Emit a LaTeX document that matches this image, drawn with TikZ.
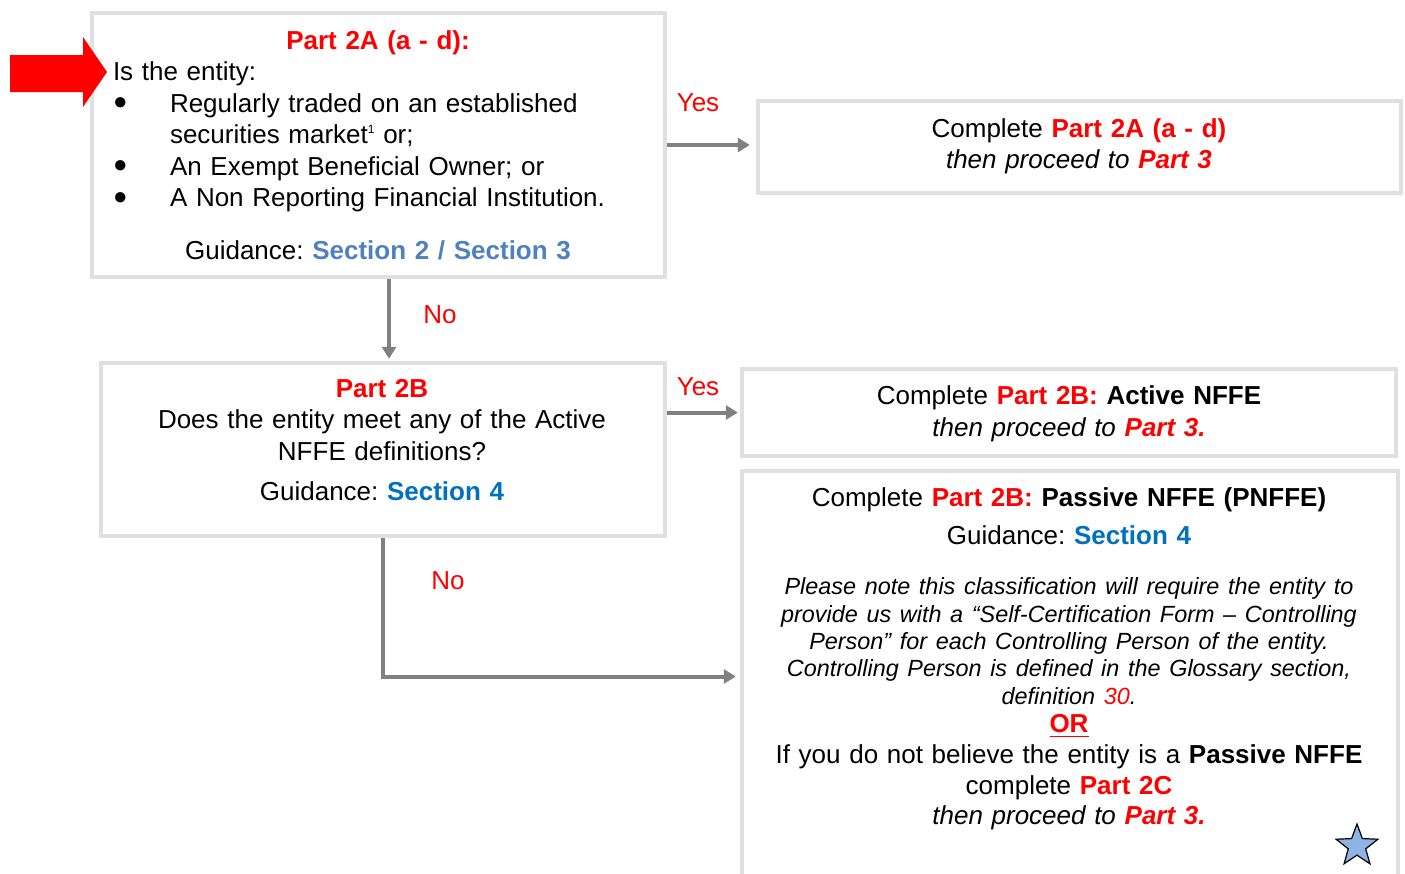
\documentclass[tikz,border=0pt]{standalone}
\usepackage{fontspec}
\setmainfont{Liberation Sans}
\usetikzlibrary{arrows.meta,shapes.geometric}
\definecolor{partred}{HTML}{FF0000}
\definecolor{steelblue}{HTML}{4F81BD}
\definecolor{sectblue}{HTML}{0070C0}
\definecolor{boxgrey}{HTML}{E0E0E0}
\definecolor{flowgrey}{HTML}{808080}
\definecolor{starblue}{HTML}{8DB4E2}
\newcommand{\partref}[1]{{\color{partred}\bfseries #1}}
\newcommand{\guideref}[1]{{\color{sectblue}\bfseries #1}}
\newcommand{\bul}{\makebox[28.5pt][l]{\fontsize{12pt}{12pt}\selectfont\raisebox{1.2pt}{●}}}
\frenchspacing

\begin{document}
\begin{tikzpicture}[x=0.5pt,y=-0.5pt,
    panel/.style={draw=boxgrey, line width=2.2pt, inner sep=0pt},
    txt/.style={inner sep=0pt, align=center, font=\fontsize{13pt}{15.75pt}\selectfont},
    answer/.style={inner sep=0pt, text=partred, font=\fontsize{13pt}{15pt}\selectfont},
    flow/.style={draw=flowgrey, line width=2pt, -{Triangle[length=6pt,width=7pt]}}]
    \useasboundingbox (0,0) rectangle (1405,874);

    % boxes
    \node[panel, minimum width=286.5pt, minimum height=132pt] (boxA) at (378.5,145) {};
    \node[panel, minimum width=321.5pt, minimum height=46pt] (boxB) at (1079.5,147) {};
    \node[panel, minimum width=282pt, minimum height=86.5pt] (boxC) at (383,449.5) {};
    \node[panel, minimum width=327pt, minimum height=43.5pt] (boxD) at (1069,412.5) {};
    \node[panel, minimum width=328pt, minimum height=205.5pt] (boxE) at (1070,676.5) {};

    % texts
    \node[txt, text width=265pt] (textA) at (378,145) {%
      \partref{Part 2A (a - d):}\\
      \makebox[\linewidth][l]{Is the entity:}\\
      \makebox[\linewidth][l]{\bul Regularly traded on an established}\\
      \makebox[\linewidth][l]{\hspace{28.5pt}securities market\raisebox{5pt}{\fontsize{6pt}{6pt}\selectfont 1} or;}\\
      \makebox[\linewidth][l]{\bul An Exempt Beneficial Owner; or}\\
      \makebox[\linewidth][l]{\bul A Non Reporting Financial Institution.}\\[10.5pt]
      Guidance: {\color{steelblue}\bfseries Section 2 / Section 3}};
    \node[txt, text width=310pt] (textB) at (1079,146.5) {%
      Complete \partref{Part 2A (a - d)}\\
      \textit{then proceed to \partref{Part 3}}};
    \node[txt, text width=270pt] (textC) at (382,440) {%
      \partref{Part 2B}\\
      Does the entity meet any of the Active\\
      NFFE definitions?\\[4.25pt]
      Guidance: \guideref{Section 4}};
    \node[txt, text width=310pt] (textD) at (1069,414) {%
      Complete \partref{Part 2B:} \textbf{Active NFFE}\\
      \textit{then proceed to \partref{Part 3.}}};
    \node[txt, text width=320pt] (textE) at (1069,659) {%
      Complete \partref{Part 2B:} \textbf{Passive NFFE (PNFFE)}\\[3pt]
      Guidance: \guideref{Section 4}\par
      \vspace{11.5pt}
      {\fontsize{11.7pt}{13.7pt}\selectfont\itshape
      Please note this classification will require the entity to\\
      provide us with a “Self-Certification Form – Controlling\\
      Person” for each Controlling Person of the entity.\\
      Controlling Person is defined in the Glossary section,\\
      definition {\color{partred}30}.\par}
      \vspace{-1pt}
      {\fontsize{13pt}{15.3pt}\selectfont
      \partref{\underline{OR}}\\
      If you do not believe the entity is a \textbf{Passive NFFE}\\
      complete \partref{Part 2C}\\
      \textit{then proceed to \partref{Part 3.}}\par}};

    % answers
    \node[answer] (yesA) at (698,103) {Yes};
    \node[answer] (noA) at (440,315) {No};
    \node[answer] (yesC) at (698,387) {Yes};
    \node[answer] (noC) at (448,581) {No};

    % connectors
    \draw[flow, shorten >=3pt] (boxA.east) -- (boxA.east -| boxB.west);
    \draw[flow, shorten >=1pt] ([xshift=5.25pt]boxA.south) -- ([xshift=5.25pt]boxA.south |- boxC.north);
    \draw[flow, shorten >=1pt] (boxD.west -| boxC.east) -- (boxD.west);
    \draw[flow, shorten >=2pt] (boxC.south) |- (boxE.west);

    % start marker and star
    \fill[partred] (10,55) -- (83,55) -- (83,37) -- (107,72) -- (83,107) -- (83,92) -- (10,92) -- cycle;
    \node[star, star points=5, star point ratio=2.4, fill=starblue, draw=black, line width=0.6pt,
      minimum size=22pt, inner sep=0pt] (mark) at (1357,846) {};
\end{tikzpicture}
\end{document}
